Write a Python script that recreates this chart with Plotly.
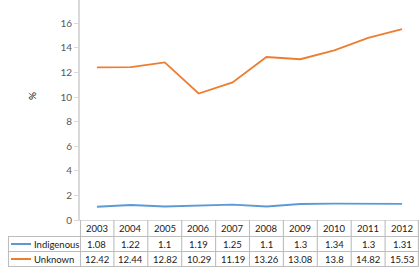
import plotly.graph_objects as go

years = ["2003", "2004", "2005", "2006", "2007", "2008", "2009", "2010", "2011", "2012"]
indigenous = [1.08, 1.22, 1.1, 1.19, 1.25, 1.1, 1.3, 1.34, 1.3, 1.31]
unknown = [12.42, 12.44, 12.82, 10.29, 11.19, 13.26, 13.08, 13.8, 14.82, 15.53]
indigenous_lbl = ["1.08", "1.22", "1.1", "1.19", "1.25", "1.1", "1.3", "1.34", "1.3", "1.31"]
unknown_lbl = ["12.42", "12.44", "12.82", "10.29", "11.19", "13.26", "13.08", "13.8", "14.82", "15.53"]
series_names = ["Indigenous", "Unknown"]
colors = ["#5B9BD5", "#ED7D31"]

W, H = 419, 272
L, R, T, B = 80, 0, 0, 52
PH = H - T - B  # 220
PW = W - L - R  # 339

def py(px):  # pixel y -> paper y
    return (PH + T - px) / PH

def pxx(px):  # pixel x -> paper x
    return (px - L) / PW

n = len(years)
xs = list(range(n))

fig = go.Figure()
fig.add_trace(go.Scatter(x=xs, y=indigenous, mode="lines", name=series_names[0],
                         line=dict(color=colors[0], width=1.8), showlegend=False))
fig.add_trace(go.Scatter(x=xs, y=unknown, mode="lines", name=series_names[1],
                         line=dict(color=colors[1], width=1.8), showlegend=False))

font_family = "Lato, Liberation Sans, sans-serif"
txt_color = "#1a1a1a"
grid_c = "#BDBDBD"
fs = 9.5

# Table grid lines
def hline(x0, x1, y):
    fig.add_shape(type="line", xref="paper", yref="paper", x0=pxx(x0), x1=pxx(x1),
                  y0=py(y), y1=py(y), line=dict(color=grid_c, width=1.1))

def vline(x, y0, y1):
    fig.add_shape(type="line", xref="paper", yref="paper", x0=pxx(x), x1=pxx(x),
                  y0=py(y0), y1=py(y1), line=dict(color=grid_c, width=1.1))

col_w = PW / n
for yy in [236.5, 251.5, 266.5]:
    hline(8, W, yy)
for i in range(1, n + 1):
    vline(min(L + i * col_w, W - 0.6), 220, 266.5)
vline(80.5, 220, 266.5)
vline(8.5, 236.5, 266.5)

def ann(x, y, text, xref="x", xanchor="center", size=fs, color=txt_color, **kw):
    fig.add_annotation(x=x, y=y, xref=xref, yref="paper", text=text, showarrow=False,
                       xanchor=xanchor, yanchor="middle",
                       font=dict(size=size, color=color, family=font_family), **kw)

for i, yr in enumerate(years):
    ann(i, py(228.5), yr)
rows = [indigenous_lbl, unknown_lbl]
row_centers = [244, 259]
for r, (vals, cy) in enumerate(zip(rows, row_centers)):
    for i, v in enumerate(vals):
        ann(i, py(cy), v)
    fig.add_shape(type="line", xref="paper", yref="paper", x0=pxx(11), x1=pxx(31),
                  y0=py(cy), y1=py(cy), line=dict(color=colors[r], width=2))
    ann(pxx(32), py(cy), series_names[r], xref="paper", xanchor="left")

# y-axis title
ann(pxx(32), py(96), "%", xref="paper", textangle=-90, size=10, color="#000000")

fig.update_layout(
    width=W, height=H,
    margin=dict(l=L, r=R, t=T, b=B),
    paper_bgcolor="white", plot_bgcolor="white",
    xaxis=dict(range=[-0.5, n - 0.5], showticklabels=False, showgrid=False, zeroline=False,
               showline=True, linecolor="#D9D9D9", linewidth=1, ticks=""),
    yaxis=dict(range=[0, 17.9], tickvals=[0, 2, 4, 6, 8, 10, 12, 14, 16],
               showgrid=False, zeroline=False, showline=True, linecolor="#D9D9D9", linewidth=2,
               ticks="outside", ticklen=4, tickcolor="#D9D9D9",
               tickfont=dict(size=10, color="#595959", family=font_family)),
)

fig.write_html("out.html")
